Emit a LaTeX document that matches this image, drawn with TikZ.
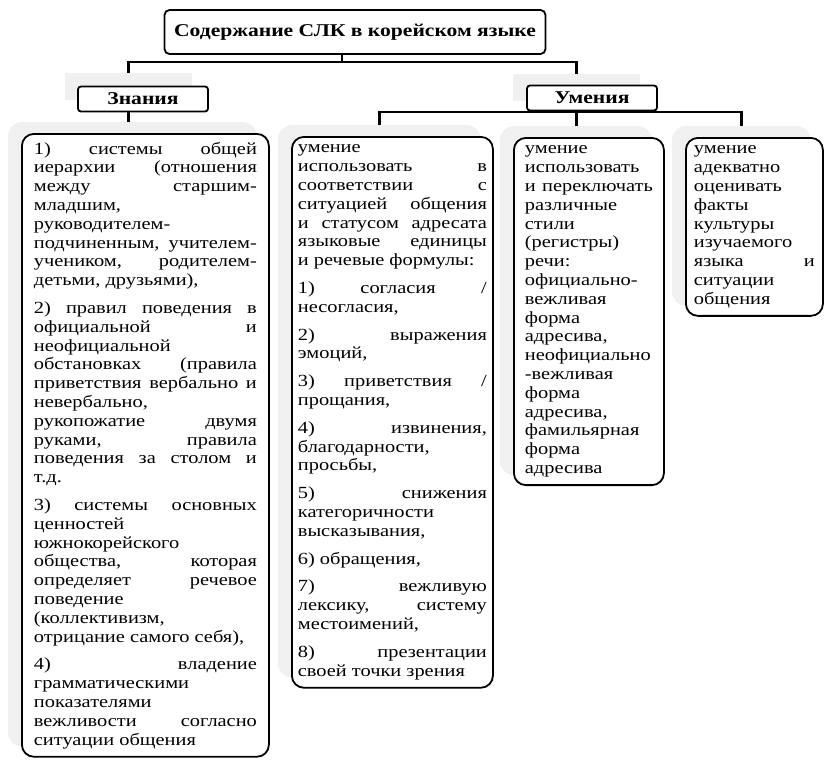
\documentclass[tikz,border=0pt]{standalone}
\usepackage{fontspec}
\setmainfont{Liberation Serif}[FakeStretch=1.2]
\usetikzlibrary{positioning, fit, backgrounds}
\tolerance=10000
\hbadness=10000
\hfuzz=20pt

\begin{document}
\begin{tikzpicture}[
    x=1pt, y=-1pt,
    head/.style={draw, rounded corners=5pt, line width=1.8pt, fill=white,
                 font=\fontsize{18}{20}\selectfont\bfseries,
                 minimum width=381pt, minimum height=44pt},
    cat/.style={draw, rounded corners=3pt, line width=1.8pt, fill=white,
                font=\fontsize{18}{20}\selectfont\bfseries,
                minimum width=130pt, minimum height=25pt, inner sep=0pt},
    catbg/.style={fill=black!6, minimum width=127pt, minimum height=27pt, inner sep=0pt},
    item/.style={draw, rounded corners=12pt, line width=1.8pt, fill=white,
                 anchor=north west, align=justify, inner ysep=8pt,
                 font=\fontsize{17}{18.8}\selectfont},
    itembg/.style={fill=black!6, rounded corners=14pt, inner sep=0pt},
    wire/.style={draw, line width=2.4pt},
]
\useasboundingbox (0,0) rectangle (824,761);

% --- Title ---
\node[head] (title) at (355,32) {Содержание СЛК в корейском языке};

% --- Two branches, grey backing under each label ---
\begin{scope}[on background layer]
\node[catbg] (knowbg) at (128.5,86.5) {};
\node[catbg] (skillbg) at (576.5,87.5) {};
\end{scope}
\node[cat] (know) at ([shift={(14.5,12.5)}]knowbg) {Знания};
\node[cat] (skill) at ([shift={(15.5,10.5)}]skillbg) {Умения};

% --- Knowledge (one source line per printed line) ---
\node[item, inner xsep=12pt, text width=223pt] (b1) at (21,133) {%
1)~системы~общей\linebreak
иерархии~(отношения\linebreak
между~старшим-\linebreak
младшим,\\
руководителем-\\
подчиненным,~учителем-\linebreak
учеником,~родителем-\linebreak
детьми,~друзьями),\\[9pt]
2)~правил~поведения~в\linebreak
официальной~и\linebreak
неофициальной\\
обстановках~(правила\linebreak
приветствия~вербально~и\linebreak
невербально,\\
рукопожатие~двумя\linebreak
руками,~правила\linebreak
поведения~за~столом~и\linebreak
т.д.\\[9pt]
3)~системы~основных\linebreak
ценностей\\
южнокорейского\\
общества,~которая\linebreak
определяет~речевое\linebreak
поведение\\
(коллективизм,\\
отрицание~самого~себя),\\[9pt]
4)~владение\linebreak
грамматическими\\
показателями\\
вежливости~согласно\linebreak
ситуации~общения};

% --- Skills ---
\node[item, inner xsep=6pt, text width=189pt] (b2) at (291,136) {%
умение\\
использовать~в\linebreak
соответствии~с\linebreak
ситуацией~общения\linebreak
и~статусом~адресата\linebreak
языковые~единицы\linebreak
и~речевые~формулы:\\[9pt]
1)~согласия~/\linebreak
несогласия,\\[9pt]
2)~выражения\linebreak
эмоций,\\[9pt]
3)~приветствия~/\linebreak
прощания,\\[9pt]
4)~извинения,\linebreak
благодарности,\\
просьбы,\\[9pt]
5)~снижения\linebreak
категоричности\\
высказывания,\\[9pt]
6)~обращения,\\[9pt]
7)~вежливую\linebreak
лексику,~систему\linebreak
местоимений,\\[9pt]
8)~презентации\linebreak
своей~точки~зрения};

\node[item, inner xsep=11pt, text width=128pt] (b3) at (513,137) {%
умение\\
использовать\\
и~переключать\linebreak
различные\\
стили\\
(регистры)\\
речи:\\
официально-\\
вежливая\\
форма\\
адресива,\\
неофициально\\
-вежливая\\
форма\\
адресива,\\
фамильярная\\
форма\\
адресива};

\node[item, inner xsep=8pt, text width=121pt] (b4) at (685,137) {%
умение\\
адекватно\\
оценивать\\
факты\\
культуры\\
изучаемого\\
языка~и\linebreak
ситуации\\
общения};

% --- Grey backing and connectors ---
\begin{scope}[on background layer]
\foreach \b in {b1,b2,b3,b4}
  \node[itembg, fit=(\b), xshift=-13pt, yshift=11pt] (\b-bg) {};

\draw[wire] ([xshift=-13pt]title.south) -- ++(0,8);
\draw[wire] (knowbg.north) -- ++(0,-11) -| (skillbg.north);
\draw[wire] (knowbg.south) -- (knowbg.south |- b1-bg.north);
\draw[wire] (b2-bg.north) -- ++(0,-13) -| (b4-bg.north);
\draw[wire] (skillbg.south) -- (skillbg.south |- b3-bg.north);
\end{scope}
\end{tikzpicture}
\end{document}
